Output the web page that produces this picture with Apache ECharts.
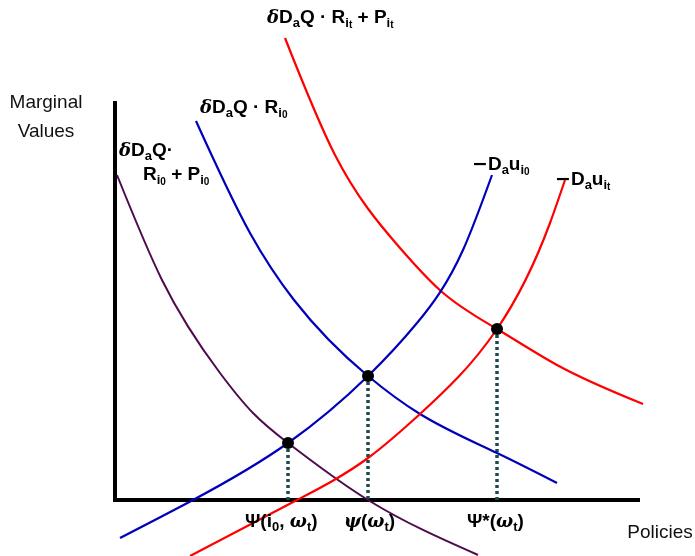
<!DOCTYPE html>
<html>
<head>
<meta charset="utf-8">
<script src="https://cdn.jsdelivr.net/npm/echarts@6/dist/echarts.min.js"></script>
<style>
  html, body { margin: 0; padding: 0; background: #fff; }
  #chart { width: 695px; height: 556px; }
</style>
</head>
<body>
<div id="chart"></div>
<script>
(function() {
  'use strict';

  // curve samples (x = policy, y = marginal value)
  var purpleX = [2, 47, 105, 138, 173, 253, 363];
  var purpleY = [325, 220, 127, 87, 57, 0, -55];

  var blueDownX = [81, 135, 179, 253, 305, 382, 442];
  var blueDownY = [379, 267, 200, 124, 86, 47, 17];

  var redDownX = [170, 220, 285, 327, 382, 442, 528];
  var redDownY = [462, 345, 252, 208, 171, 135, 96];

  var blueUpX = [5, 78, 173, 253, 302, 348, 377];
  var blueUpY = [-38, 0, 57, 124, 177, 250, 325];

  var redUpX = [75, 182, 253, 305, 382, 435, 450];
  var redUpY = [-56, 0, 42, 86, 171, 277, 320];

  // equilibrium points and their policies
  var eqX = [173, 253, 382];
  var eqY = [57, 124, 171];

  var xMax = 523, yMax = 397;

  function zip(xs, ys) {
    var out = [];
    for (var i = 0; i < xs.length; i++) {
      out.push([xs[i], ys[i]]);
    }
    return out;
  }

  // natural cubic spline through pixel points -> svg path of bezier segments
  function splinePath(pts) {
    var n = pts.length, h = [], M = [], i;
    for (i = 0; i < n - 1; i++) {
      h.push(pts[i + 1][0] - pts[i][0]);
    }
    // tridiagonal solve for second derivatives
    var a = [], b = [], c = [], d = [];
    for (i = 0; i < n; i++) {
      if (i === 0 || i === n - 1) {
        a.push(0); b.push(1); c.push(0); d.push(0);
      } else {
        a.push(h[i - 1]);
        b.push(2 * (h[i - 1] + h[i]));
        c.push(h[i]);
        d.push(6 * ((pts[i + 1][1] - pts[i][1]) / h[i] -
          (pts[i][1] - pts[i - 1][1]) / h[i - 1]));
      }
    }
    for (i = 1; i < n; i++) {
      var w = a[i] / b[i - 1];
      b[i] -= w * c[i - 1];
      d[i] -= w * d[i - 1];
    }
    M[n - 1] = d[n - 1] / b[n - 1];
    for (i = n - 2; i >= 0; i--) {
      M[i] = (d[i] - c[i] * M[i + 1]) / b[i];
    }
    var slope = [];
    for (i = 0; i < n - 1; i++) {
      slope.push((pts[i + 1][1] - pts[i][1]) / h[i] - h[i] * (2 * M[i] + M[i + 1]) / 6);
    }
    slope.push((pts[n - 1][1] - pts[n - 2][1]) / h[n - 2] +
      h[n - 2] * (M[n - 2] + 2 * M[n - 1]) / 6);

    var path = 'M' + pts[0][0] + ' ' + pts[0][1];
    for (i = 0; i < n - 1; i++) {
      var k = h[i] / 3;
      path += ' C' + (pts[i][0] + k) + ' ' + (pts[i][1] + slope[i] * k) +
        ' ' + (pts[i + 1][0] - k) + ' ' + (pts[i + 1][1] - slope[i + 1] * k) +
        ' ' + pts[i + 1][0] + ' ' + pts[i + 1][1];
    }
    return path;
  }

  function curve(xs, ys, color, width) {
    return {
      type: 'custom',
      data: zip(xs, ys),
      clip: false,
      silent: true,
      z: 3,
      renderItem: function(params, api) {
        if (params.dataIndex !== 0) {
          return null;
        }
        var pts = xs.map(function(x, i) {
          return api.coord([x, ys[i]]);
        });
        return {
          type: 'path',
          shape: { pathData: splinePath(pts) },
          style: { fill: 'none', stroke: color, lineWidth: width }
        };
      }
    };
  }

  var series = [
    curve(purpleX, purpleY, '#4e0b4e', 2),
    curve(blueDownX, blueDownY, '#0000bb', 2.2),
    curve(redDownX, redDownY, '#ff0000', 2.2),
    curve(blueUpX, blueUpY, '#0000bb', 2.2),
    curve(redUpX, redUpY, '#ff0000', 2.2)
  ];

  eqX.forEach(function(x, i) {
    series.push({
      type: 'line',
      data: [[x, eqY[i]], [x, 0]],
      showSymbol: false,
      silent: true,
      lineStyle: { color: '#1d4a4a', width: 3.5, type: [3, 3] },
      z: 2
    });
  });

  series.push({
    type: 'scatter',
    data: zip(eqX, eqY),
    symbolSize: 12,
    itemStyle: { color: '#000', opacity: 1 },
    silent: true,
    z: 5
  });

  var sans = '"Liberation Sans", Arial, sans-serif';

  function richSet(color) {
    return {
      d: { fontFamily: '"DejaVu Serif", serif', fontStyle: 'italic', fontWeight: 'bold', fontSize: 18, color: color },
      m: { fontFamily: sans, fontWeight: 'bold', fontSize: 19, color: color },
      n: { fontFamily: '"DejaVu Sans", sans-serif', fontWeight: 'bold', fontSize: 19, color: color },
      s: { fontFamily: sans, fontWeight: 'bold', fontSize: 13, color: color, verticalAlign: 'bottom' },
      ss: { fontFamily: sans, fontWeight: 'bold', fontSize: 10, color: color, verticalAlign: 'bottom' },
      g: { fontFamily: '"DejaVu Serif", serif', fontStyle: 'italic', fontWeight: 'bold', fontSize: 18, color: color }
    };
  }

  function label(x, y, text, color) {
    return {
      type: 'text',
      x: x,
      y: y,
      z: 10,
      style: {
        text: text,
        rich: richSet(color),
        align: 'left',
        verticalAlign: 'middle',
        lineHeight: 24
      }
    };
  }

  function plain(x, y, text) {
    return {
      type: 'text',
      x: x,
      y: y,
      z: 10,
      style: {
        text: text,
        fill: '#111',
        font: '19px ' + sans,
        align: 'center',
        verticalAlign: 'middle'
      }
    };
  }

  var red = '#ff0000', blue = '#0a0ab4', purple = '#5a1a5a', ink = '#1a1a1a';

  var graphic = [
    plain(46, 103, 'Marginal'),
    plain(46, 132, 'Values'),
    plain(660, 533, 'Policies'),
    label(267, 18, '{d|δ}{m|D}{s|a}{m|Q · R}{s|i}{ss|t}{m| + P}{s|i}{ss|t}', red),
    label(200, 108, '{d|δ}{m|D}{s|a}{m|Q · R}{s|i}{ss|0}', blue),
    label(119, 151, '{d|δ}{m|D}{s|a}{m|Q·}', purple),
    label(143, 175, '{m|R}{s|i}{ss|0}{m| + P}{s|i}{ss|0}', purple),
    label(472, 165, '{n|−}{m|D}{s|a}{m|u}{s|i}{ss|0}', blue),
    label(555, 180, '{n|−}{m|D}{s|a}{m|u}{s|i}{ss|t}', red),
    label(245, 522, '{m|Ψ(i}{s|0}{m|, }{g|ω}{s|t}{m|)}', ink),
    label(344, 522, '{g|ψ}{m|(}{g|ω}{s|t}{m|)}', ink),
    label(467, 522, '{m|Ψ*(}{g|ω}{s|t}{m|)}', ink)
  ];

  var hiddenAxis = {
    axisTick: { show: false },
    axisLabel: { show: false },
    splitLine: { show: false },
    axisLine: { show: true, lineStyle: { color: '#000', width: 4, cap: 'square' } }
  };

  var chart = echarts.init(document.getElementById('chart'));
  chart.setOption({
    animation: false,
    grid: { left: 115, top: 103, right: 57, bottom: 56 },
    xAxis: Object.assign({ type: 'value', min: 0, max: xMax }, hiddenAxis),
    yAxis: Object.assign({ type: 'value', min: 0, max: yMax }, hiddenAxis),
    series: series,
    graphic: graphic
  });
})();
</script>
</body>
</html>
